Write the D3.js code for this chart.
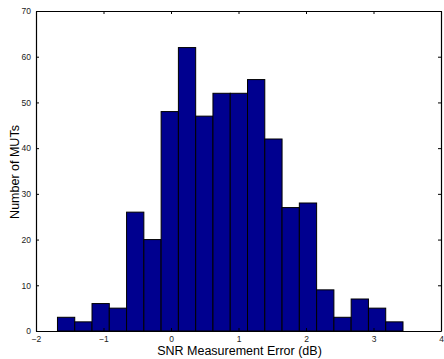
<!doctype html>
<html>
<head>
<style>
  body { margin: 0; background: #fff; }
  text { font-family: "Liberation Sans", Arial, sans-serif; }
  .tick text { font-size: 8.5px; fill: #222; }
  .bar { fill: rgb(0, 0, 143); stroke: #000; stroke-width: 1; }
</style>
<script src="https://d3js.org/d3.v7.min.js"></script>
</head>
<body>
<svg id="svg" width="444" height="359"></svg>
<script>
// histogram: 20 bins between min and max of the data
var binStart = -1.682, binEnd = 3.437;
var counts = [3, 2, 6, 5, 26, 20, 48, 62, 47, 52, 52, 55, 42, 27, 28, 9, 3, 7, 5, 2];
var xTicks = [-2, -1, 0, 1, 2, 3, 4];
var yTicks = [0, 10, 20, 30, 40, 50, 60, 70];

var svg = d3.select("#svg"),
    pLeft = 36, pRight = 441, pTop = 11, pBottom = 331;

var x = d3.scaleLinear().domain([-2, 4]).range([pLeft, pRight]),
    y = d3.scaleLinear().domain([0, 70]).range([pBottom, pTop]);

var w = (binEnd - binStart) / counts.length;
var bins = counts.map(function(c, i) {
    return { x0: binStart + i * w, x1: binStart + (i + 1) * w, n: c };
});

svg.selectAll(".bar")
    .data(bins)
    .enter().append("rect")
    .attr("class", "bar")
    .attr("x", function(d) { return x(d.x0); })
    .attr("y", function(d) { return y(d.n); })
    .attr("width", function(d) { return x(d.x1) - x(d.x0); })
    .attr("height", function(d) { return pBottom - y(d.n); });

function fmt(d) { return d < 0 ? "\u2212" + Math.abs(d) : "" + d; }

var gx = svg.append("g")
    .attr("transform", "translate(0," + pBottom + ")")
    .call(d3.axisBottom(x).tickValues(xTicks).tickFormat(fmt).tickSizeInner(-3).tickSizeOuter(0).tickPadding(5));
var gy = svg.append("g")
    .attr("transform", "translate(" + pLeft + ",0)")
    .call(d3.axisLeft(y).tickValues(yTicks).tickFormat(fmt).tickSizeInner(-3).tickSizeOuter(0).tickPadding(5));
var gt = svg.append("g")
    .attr("transform", "translate(0," + pTop + ")")
    .call(d3.axisTop(x).tickValues(xTicks).tickFormat("").tickSizeInner(-3).tickSizeOuter(0));
var gr = svg.append("g")
    .attr("transform", "translate(" + pRight + ",0)")
    .call(d3.axisRight(y).tickValues(yTicks).tickFormat("").tickSizeInner(-3).tickSizeOuter(0));

[gx, gy, gt, gr].forEach(function(g) {
    g.select(".domain").attr("stroke", "#000").attr("stroke-width", 1.2);
    g.selectAll(".tick line").attr("stroke", "#000");
});

svg.append("text")
    .attr("x", (pLeft + pRight) / 2 + 1)
    .attr("y", 355)
    .attr("text-anchor", "middle")
    .attr("font-size", 12.5)
    .text("SNR Measurement Error (dB)");

svg.append("text")
    .attr("transform", "translate(18.5," + ((pTop + pBottom) / 2 + 1) + ") rotate(-90)")
    .attr("text-anchor", "middle")
    .attr("font-size", 12.5)
    .text("Number of MUTs");
</script>
</body>
</html>
